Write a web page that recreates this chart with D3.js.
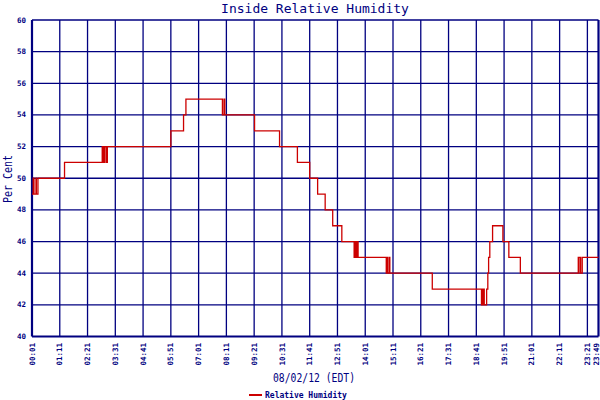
<!DOCTYPE html>
<html>
<head>
<meta charset="utf-8">
<script src="https://cdn.jsdelivr.net/npm/d3@7"></script>
<style>
  body { margin: 0; background: #fff; }
  text { font-family: "DejaVu Sans Mono", monospace; fill: #000080; }
</style>
</head>
<body>
<svg id="svg1" width="600" height="400"></svg>
<script>
// readings (time of sample, relative humidity %)
var sampleTimes = ["00:01","00:04","00:06","00:11","00:12","00:16","01:23",
  "02:58","03:01","03:04","03:08","03:11","05:51","06:23","06:29",
  "08:01","08:05","08:07","09:22","10:25","11:10","11:41","12:01","12:20","12:39",
  "13:02","13:33","13:35","13:38","13:40","13:43","14:54","14:56","14:57","15:01","15:03",
  "16:50","18:54","18:56","18:57","18:59","19:01","19:07","19:10","19:12","19:15","19:22",
  "19:48","20:03","20:32","22:58","22:59","23:00","23:04","23:08","23:49"];
var humidity = [49,50,49,50,49,50,51,
  52,51,52,51,52,53,54,55,
  54,55,54,53,52,51,50,49,48,47,
  46,45,46,45,46,45,44,45,44,45,44,
  43,42,43,42,43,42,43,44,45,46,47,
  46,45,44,45,44,45,44,45,45];

var xTickLabels = ["00:01","01:11","02:21","03:31","04:41","05:51","07:01","08:11","09:21","10:31",
  "11:41","12:51","14:01","15:11","16:21","17:31","18:41","19:51","21:01","22:11","23:21","23:49"];
var yTicks = [40,42,44,46,48,50,52,54,56,58,60];

var navy = "#000080", red = "#cc0000";

function toMin(s) { var p = s.split(":"); return +p[0]*60 + +p[1]; }

const svg = d3.select("#svg1"),
      x   = d3.scaleLinear().domain([toMin("00:01"), toMin("23:49")]).range([32, 598.5]),
      y   = d3.scaleLinear().domain([40, 60]).range([336.5, 20]);

var data = sampleTimes.map((t, i) => ({t: toMin(t), v: humidity[i]}));

// title
svg.append("text")
    .attr("x", 315).attr("y", 13)
    .attr("text-anchor", "middle")
    .style("font-size", "13px")
    .text("Inside Relative Humidity");

// grid
svg.append("g").selectAll("line")
  .data(yTicks)
  .enter().append("line")
    .attr("x1", x.range()[0]).attr("x2", x.range()[1])
    .attr("y1", d => y(d)).attr("y2", d => y(d))
    .attr("stroke", navy)
    .attr("stroke-width", d => d == 40 ? 2 : 1.3);

svg.append("g").selectAll("line")
  .data(xTickLabels)
  .enter().append("line")
    .attr("x1", d => x(toMin(d))).attr("x2", d => x(toMin(d)))
    .attr("y1", y(60)).attr("y2", y(40))
    .attr("stroke", navy)
    .attr("stroke-width", (d, i) => (i == 0 || i == xTickLabels.length - 1) ? 2.2 : 1.3);

// y tick labels
svg.append("g").selectAll("text")
  .data(yTicks)
  .enter().append("text")
    .attr("x", 26).attr("y", d => y(d) + 2.5)
    .attr("text-anchor", "end")
    .style("font-size", "7.5px")
    .style("font-weight", "bold")
    .text(d => d);

// x tick labels, rotated (last one squeezed in against the edge)
svg.append("g").selectAll("text")
  .data(xTickLabels)
  .enter().append("text")
    .attr("transform", d => `translate(${Math.min(x(toMin(d)) + 2.6, 599)},343) rotate(-90)`)
    .attr("text-anchor", "end")
    .style("font-size", "7.5px")
    .style("font-weight", "bold")
    .text(d => d);

// axis titles
svg.append("text")
    .attr("x", 314).attr("y", 382)
    .attr("text-anchor", "middle")
    .attr("textLength", 82).attr("lengthAdjust", "spacingAndGlyphs")
    .style("font-size", "13px")
    .text("08/02/12 (EDT)");

svg.append("text")
    .attr("transform", "translate(11.5,179) rotate(-90)")
    .attr("text-anchor", "middle")
    .attr("textLength", 48).attr("lengthAdjust", "spacingAndGlyphs")
    .style("font-size", "12px")
    .text("Per Cent");

// humidity line
var line = d3.line()
    .x(d => x(d.t))
    .y(d => y(d.v))
    .curve(d3.curveStepAfter);

svg.append("path")
    .datum(data)
    .attr("d", line)
    .attr("fill", "none")
    .attr("stroke", red)
    .attr("stroke-width", 1.3);

// legend
svg.append("line")
    .attr("x1", 249).attr("x2", 262)
    .attr("y1", 395).attr("y2", 395)
    .attr("stroke", red)
    .attr("stroke-width", 2);

svg.append("text")
    .attr("x", 265).attr("y", 397.5)
    .style("font-size", "8px")
    .style("font-weight", "bold")
    .text("Relative Humidity");
</script>
</body>
</html>
